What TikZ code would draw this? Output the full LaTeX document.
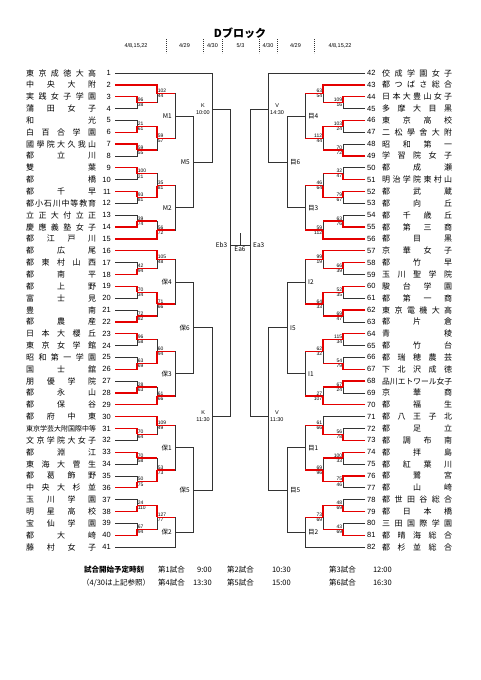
\documentclass[tikz,border=0pt]{standalone}
\usepackage{fontspec}
\usepackage{graphicx}
\setmainfont{Liberation Sans}
\newfontfamily\jp{Noto Sans CJK JP}
\usetikzlibrary{calc, positioning}
\pgfdeclarelayer{winners}
\pgfsetlayers{main,winners}

% width of the name column, names are spread over it
\newlength\namewd
\setlength\namewd{70pt}
\makeatletter
\def\sn@go#1{\@tfor\sn@c:=#1\do{\sn@sep\sn@c\def\sn@sep{\hfill}}}
\newcommand\spreadname[1]{%
  \sbox0{#1}%
  \ifdim\wd0>\namewd\resizebox{\namewd}{!}{#1}%
  \else\makebox[\namewd][s]{\def\sn@sep{}\expandafter\sn@go\expandafter{#1}}\fi}
\makeatother

% played game: side, out, column, next column, top entry, bottom entry, top score, bottom score
\newcommand\game[8]{%
  \coordinate (#2) at ($(#3 |- #5)!0.5!(#3 |- #6)$);
  \draw[line] (#5) -| (#2);
  \draw[line] (#6) -| (#2);
  \begin{pgfonlayer}{winners}
    \ifnum#7>#8\relax \draw[win] (#5) -| (#2);\else \draw[win] (#6) -| (#2);\fi
    \draw[win] (#2) -- (#2 -| #4);
  \end{pgfonlayer}
  \node[score, #1up] (#2u) at (#2) {#7};
  \node[score, #1dn] (#2d) at (#2) {#8};
}
% game still to be played: out, column, top entry, bottom entry
\newcommand\bout[4]{%
  \coordinate (#1) at ($(#2 |- #3)!0.5!(#2 |- #4)$);
  \draw[line] (#3) -| (#1);
  \draw[line] (#4) -| (#1);
}

\begin{document}
\begin{tikzpicture}[
    x=1pt, y=-1pt,
    % --- Styles ---
    line/.style={draw=black!80, line width=0.7pt},
    win/.style={draw=red!90!black, line width=1.3pt},
    tname/.style={anchor=west, inner sep=0pt, font=\jp\fontsize{8}{8}\selectfont},
    num/.style={inner sep=0pt, font=\fontsize{7.5}{7.5}\selectfont},
    score/.style={inner sep=0.6pt, font=\fontsize{5}{5}\selectfont},
    lup/.style={anchor=south west}, ldn/.style={anchor=north west},
    rup/.style={anchor=south east}, rdn/.style={anchor=north east},
    mname/.style={inner sep=3pt, font=\jp\fontsize{6.5}{6.5}\selectfont},
    tlabel/.style={inner sep=2pt, align=center, font=\fontsize{5.5}{7}\selectfont},
    date/.style={inner sep=0pt, font=\fontsize{5.5}{5.5}\selectfont},
    dashline/.style={draw=black!80, line width=0.6pt, dash pattern=on 1.2pt off 0.8pt},
    foot/.style={inner sep=0pt, font=\jp\fontsize{7.5}{7.5}\selectfont}
  ]

  \fill[white] (0,0) rectangle (481,680);
  \useasboundingbox (0,0) rectangle (481,680);

  % --- Header ---
  \node[font=\jp\bfseries\fontsize{11}{11}\selectfont] (title) at (240,33) {Dブロック};
  \foreach \x in {166,203,222,259,277,314}
    \draw[dashline] (\x,39) -- (\x,53);
  \node[date] (d_l1) at (136,46) {4/8,15,22};
  \node[date] (d_l2) at (184.5,46) {4/29};
  \node[date] (d_l3) at (212.5,46) {4/30};
  \node[date] (d_c) at (240.5,46) {5/3};
  \node[date] (d_r3) at (268,46) {4/30};
  \node[date] (d_r2) at (295.5,46) {4/29};
  \node[date] (d_r1) at (340,46) {4/8,15,22};

  % --- Columns of the bracket ---
  \coordinate (cL1) at (137,0);   \coordinate (cR1) at (343,0);
  \coordinate (cL2) at (157,0);   \coordinate (cR2) at (323,0);
  \coordinate (cL3) at (175,0);   \coordinate (cR3) at (305,0);
  \coordinate (cL4) at (193,0);   \coordinate (cR4) at (287,0);

  % --- Teams ---
  \foreach \i/\nm in {1/東京成徳大高, 2/中央大附, 3/実践女子学園, 4/蒲田女子, 5/和光,
      6/白百合学園, 7/國學院大久我山, 8/都立川, 9/雙葉, 10/都橋, 11/都千早,
      12/都小石川中等教育, 13/立正大付立正, 14/慶應義塾女子, 15/都江戸川, 16/都広尾,
      17/都東村山西, 18/都南平, 19/都上野, 20/富士見, 21/豊南, 22/都農産,
      23/日本大櫻丘, 24/東京女学館, 25/昭和第一学園, 26/国士舘, 27/朋優学院,
      28/都永山, 29/都保谷, 30/都府中東, 31/東京学芸大附国際中等, 32/文京学院大女子,
      33/都淵江, 34/東海大菅生, 35/都葛飾野, 36/中央大杉並, 37/玉川学園,
      38/明星高校, 39/宝仙学園, 40/都大崎, 41/藤村女子} {
    \pgfmathsetmacro\yy{73+(\i-1)*11.85}
    \node[tname] (nm\i) at (26,\yy) {\spreadname{\nm}};
    \node[num, anchor=east] (n\i) at (111,\yy) {\i};
    \coordinate (t\i) at (115,\yy);
  }
  \foreach \i/\nm in {42/佼成学園女子, 43/都つばさ総合, 44/日本大豊山女子, 45/多摩大目黒,
      46/東京高校, 47/二松學舍大附, 48/昭和第一, 49/学習院女子, 50/都成瀬,
      51/明治学院東村山, 52/都武蔵, 53/都向丘, 54/都千歳丘, 55/都第三商, 56/都目黒,
      57/京華女子, 58/都竹早, 59/玉川聖学院, 60/駿台学園, 61/都第一商, 62/東京電機大高,
      63/都片倉, 64/青稜, 65/都竹台, 66/都瑞穂農芸, 67/下北沢成徳, 68/品川エトワール女子,
      69/京華商, 70/都福生, 71/都八王子北, 72/都足立, 73/都調布南, 74/都拝島,
      75/都紅葉川, 76/都鷺宮, 77/都山崎, 78/都世田谷総合, 79/都日本橋, 80/三田国際学園,
      81/都晴海総合, 82/都杉並総合} {
    \pgfmathsetmacro\yy{73+(\i-42)*11.85}
    \node[num, anchor=west] (n\i) at (367,\yy) {\i};
    \node[tname] (nm\i) at (382,\yy) {\spreadname{\nm}};
    \coordinate (t\i) at (365,\yy);
  }

  % --- Left half ---
  \game{l}{a34}{cL1}{cL2}{t3}{t4}{96}{38}
  \game{l}{a234}{cL2}{cL3}{t2}{a34}{102}{44}
  \game{l}{a56}{cL1}{cL2}{t5}{t6}{21}{61}
  \game{l}{a78}{cL1}{cL2}{t7}{t8}{59}{55}
  \game{l}{a58}{cL2}{cL3}{a56}{a78}{59}{57}
  \bout{M1}{cL3}{a234}{a58}
  \game{l}{a910}{cL1}{cL2}{t9}{t10}{100}{21}
  \game{l}{a1112}{cL1}{cL2}{t11}{t12}{93}{81}
  \game{l}{a912}{cL2}{cL3}{a910}{a1112}{35}{81}
  \game{l}{a1314}{cL1}{cL2}{t13}{t14}{39}{74}
  \game{l}{a1315}{cL2}{cL3}{a1314}{t15}{56}{72}
  \bout{M2}{cL3}{a912}{a1315}
  \bout{M5}{cL4}{M1}{M2}

  \game{l}{a1718}{cL1}{cL2}{t17}{t18}{42}{94}
  \game{l}{a1618}{cL2}{cL3}{t16}{a1718}{105}{48}
  \game{l}{a1920}{cL1}{cL2}{t19}{t20}{70}{34}
  \game{l}{a2122}{cL1}{cL2}{t21}{t22}{72}{82}
  \game{l}{a1922}{cL2}{cL3}{a1920}{a2122}{71}{66}
  \bout{H4}{cL3}{a1618}{a1922}
  \game{l}{a2324}{cL1}{cL2}{t23}{t24}{96}{58}
  \game{l}{a2526}{cL1}{cL2}{t25}{t26}{63}{69}
  \game{l}{a2326}{cL2}{cL3}{a2324}{a2526}{60}{94}
  \game{l}{a2728}{cL1}{cL2}{t27}{t28}{28}{63}
  \game{l}{a2729}{cL2}{cL3}{a2728}{t29}{61}{66}
  \bout{H3}{cL3}{a2326}{a2729}
  \bout{H6}{cL4}{H4}{H3}

  \game{l}{a3132}{cL1}{cL2}{t31}{t32}{70}{64}
  \game{l}{a3032}{cL2}{cL3}{t30}{a3132}{109}{49}
  \game{l}{a3334}{cL1}{cL2}{t33}{t34}{70}{58}
  \game{l}{a3536}{cL1}{cL2}{t35}{t36}{50}{75}
  \game{l}{a3336}{cL2}{cL3}{a3334}{a3536}{53}{73}
  \bout{H1}{cL3}{a3032}{a3336}
  \game{l}{a3738}{cL1}{cL2}{t37}{t38}{24}{110}
  \game{l}{a3940}{cL1}{cL2}{t39}{t40}{67}{94}
  \game{l}{a3740}{cL2}{cL3}{a3738}{a3940}{127}{77}
  \bout{H2}{cL3}{a3740}{t41}
  \bout{H5}{cL4}{H1}{H2}

  \coordinate (k_top) at (212,109);
  \draw[line] (t1) -| (k_top);
  \draw[line] (M5) -| (k_top);
  \coordinate (k_bot) at (212,416);
  \draw[line] (H6) -| (k_bot);
  \draw[line] (H5) -| (k_bot);

  % --- Right half ---
  \game{r}{b4445}{cR1}{cR2}{t44}{t45}{109}{16}
  \game{r}{b4345}{cR2}{cR3}{t43}{b4445}{63}{54}
  \game{r}{b4647}{cR1}{cR2}{t46}{t47}{103}{24}
  \game{r}{b4849}{cR1}{cR2}{t48}{t49}{70}{72}
  \game{r}{b4649}{cR2}{cR3}{b4647}{b4849}{112}{44}
  \bout{ME4}{cR3}{b4345}{b4649}
  \game{r}{b5051}{cR1}{cR2}{t50}{t51}{32}{47}
  \game{r}{b5253}{cR1}{cR2}{t52}{t53}{79}{67}
  \game{r}{b5053}{cR2}{cR3}{b5051}{b5253}{46}{64}
  \game{r}{b5455}{cR1}{cR2}{t54}{t55}{63}{76}
  \game{r}{b5456}{cR2}{cR3}{b5455}{t56}{59}{112}
  \bout{ME3}{cR3}{b5053}{b5456}
  \bout{ME6}{cR4}{ME4}{ME3}

  \game{r}{b5859}{cR1}{cR2}{t58}{t59}{66}{39}
  \game{r}{b5759}{cR2}{cR3}{t57}{b5859}{99}{19}
  \game{r}{b6061}{cR1}{cR2}{t60}{t61}{52}{35}
  \game{r}{b6263}{cR1}{cR2}{t62}{t63}{69}{47}
  \game{r}{b6063}{cR2}{cR3}{b6061}{b6263}{64}{33}
  \bout{I2}{cR3}{b5759}{b6063}
  \game{r}{b6465}{cR1}{cR2}{t64}{t65}{115}{34}
  \game{r}{b6667}{cR1}{cR2}{t66}{t67}{54}{79}
  \game{r}{b6467}{cR2}{cR3}{b6465}{b6667}{62}{32}
  \game{r}{b6869}{cR1}{cR2}{t68}{t69}{67}{24}
  \game{r}{b6870}{cR2}{cR3}{b6869}{t70}{27}{107}
  \bout{I1}{cR3}{b6467}{b6870}
  \bout{I5}{cR4}{I2}{I1}

  \game{r}{b7273}{cR1}{cR2}{t72}{t73}{56}{78}
  \game{r}{b7173}{cR2}{cR3}{t71}{b7273}{61}{66}
  \game{r}{b7475}{cR1}{cR2}{t74}{t75}{100}{33}
  \game{r}{b7677}{cR1}{cR2}{t76}{t77}{75}{46}
  \game{r}{b7477}{cR2}{cR3}{b7475}{b7677}{69}{96}
  \bout{ME1}{cR3}{b7173}{b7477}
  \game{r}{b7879}{cR1}{cR2}{t78}{t79}{48}{69}
  \game{r}{b8081}{cR1}{cR2}{t80}{t81}{43}{69}
  \game{r}{b7881}{cR2}{cR3}{b7879}{b8081}{73}{69}
  \bout{ME2}{cR3}{b7881}{t82}
  \bout{ME5}{cR4}{ME1}{ME2}

  \coordinate (v_top) at (268,109);
  \draw[line] (t42) -| (v_top);
  \draw[line] (ME6) -| (v_top);
  \coordinate (v_bot) at (268,416);
  \draw[line] (I5) -| (v_bot);
  \draw[line] (ME5) -| (v_bot);

  % --- Final ---
  \coordinate (final_l) at (230.5,245);
  \coordinate (final_r) at (250,245);
  \coordinate (final_c) at (240,245);
  \coordinate (final_top) at (240,233);
  \draw[line] (k_top) -| (final_l);
  \draw[line] (k_bot) -| (final_l);
  \draw[line] (v_top) -| (final_r);
  \draw[line] (v_bot) -| (final_r);
  \draw[line] (final_l) -- (final_r);
  \draw[line] (final_c) -- (final_top);

  % --- Game names ---
  \foreach \m/\t in {M1/M1, M2/M2, M5/M5, H4/保4, H3/保3, H6/保6, H1/保1, H2/保2, H5/保5}
    \node[mname, left] (l\m) at (\m) {\t};
  \foreach \m/\t in {ME4/目4, ME3/目3, ME6/目6, I2/I2, I1/I1, I5/I5, ME1/目1, ME2/目2, ME5/目5}
    \node[mname, right] (l\m) at (\m) {\t};
  \node[tlabel, left] (l_ktop) at (k_top) {K\\10:00};
  \node[tlabel, left] (l_kbot) at (k_bot) {K\\11:30};
  \node[tlabel, right] (l_vtop) at (v_top) {V\\14:30};
  \node[tlabel, right] (l_vbot) at (v_bot) {V\\11:30};
  \node[mname, left] (l_eb) at (final_l) {Eb3};
  \node[mname, right] (l_ea) at (final_r) {Ea3};
  \node[mname, below, inner sep=2pt] (l_final) at (final_c) {Ea6};

  % --- Start times ---
  \node[foot, anchor=west, font=\jp\bfseries\fontsize{7.5}{7.5}\selectfont] (f_head) at (84,570) {試合開始予定時刻};
  \node[foot, anchor=west] (f_note) at (82,583) {（4/30は上記参照）};
  \node[foot, anchor=west] (g1) at (158,570) {第1試合};
  \node[foot, anchor=east] (g1t) at (212,570) {9:00};
  \node[foot, anchor=west] (g2) at (227,570) {第2試合};
  \node[foot, anchor=east] (g2t) at (291,570) {10:30};
  \node[foot, anchor=west] (g3) at (329,570) {第3試合};
  \node[foot, anchor=east] (g3t) at (392,570) {12:00};
  \node[foot, anchor=west] (g4) at (158,583) {第4試合};
  \node[foot, anchor=east] (g4t) at (212,583) {13:30};
  \node[foot, anchor=west] (g5) at (227,583) {第5試合};
  \node[foot, anchor=east] (g5t) at (291,583) {15:00};
  \node[foot, anchor=west] (g6) at (329,583) {第6試合};
  \node[foot, anchor=east] (g6t) at (392,583) {16:30};

\end{tikzpicture}
\end{document}
